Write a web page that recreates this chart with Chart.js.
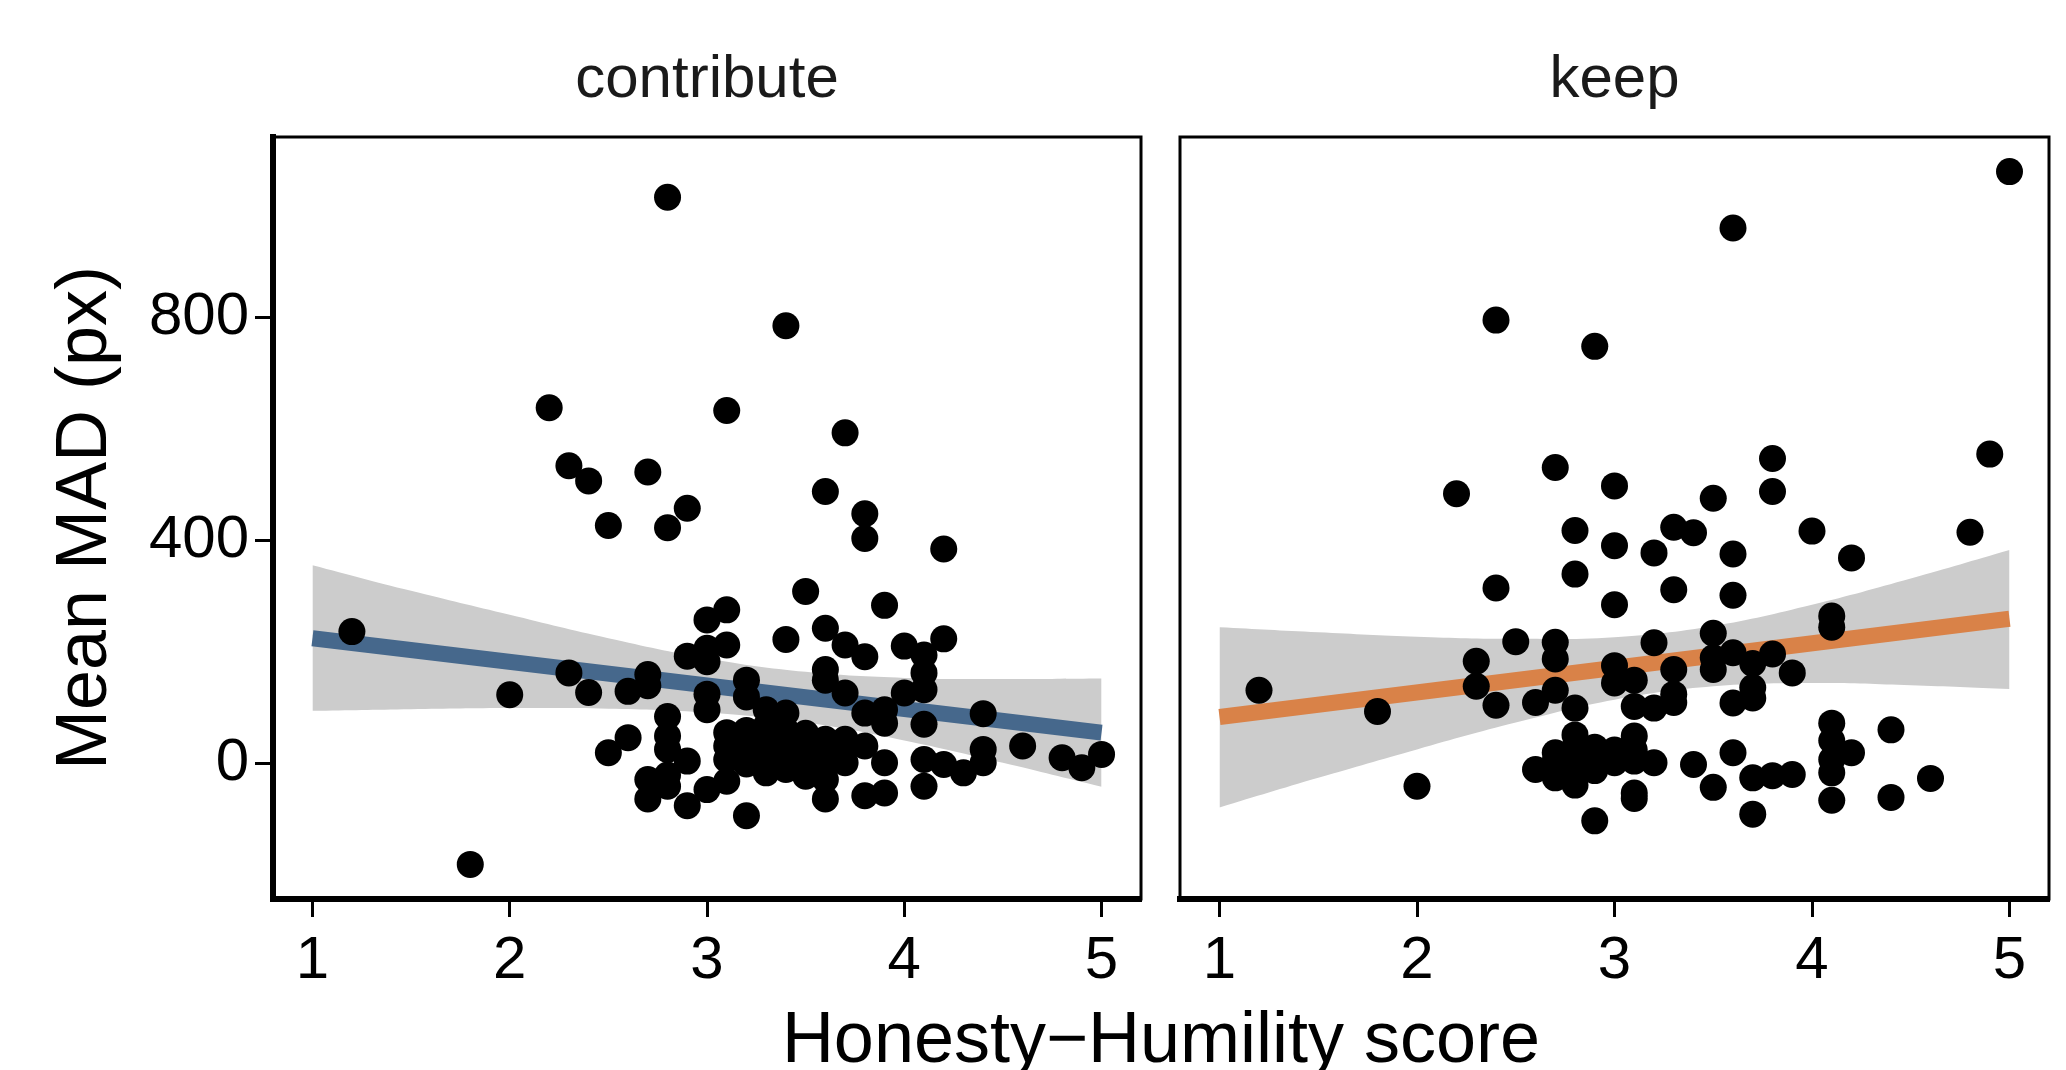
<!DOCTYPE html>
<html>
<head>
<meta charset="utf-8">
<script src="https://cdn.jsdelivr.net/npm/chart.js@4.4.1/dist/chart.umd.min.js"></script>
<style>
  body { margin: 0; background: #fff; width: 2066px; height: 1070px; position: relative; overflow: hidden; }
  canvas { position: absolute; top: 0; }
  #c1 { left: 0; }
  #c2 { left: 1160px; }
  #xtitle { position: absolute; left: 561px; width: 1200px; top: 994px; text-align: center;
            font: 72px 'Liberation Sans', Arial, sans-serif; line-height: 86px; color: #000; }
</style>
</head>
<body>
<canvas id="c1" width="1160" height="1070"></canvas>
<canvas id="c2" width="906" height="1070"></canvas>
<div id="xtitle">Honesty−Humility score</div>
<script>
// values
const xTicks = [1, 2, 3, 4, 5];
const yTicks = [0, 400, 800];

const contributeX = [2.8, 3.4, 2.2, 3.1, 3.7, 2.3, 2.4, 2.7, 2.9, 2.5, 2.8, 3.6, 3.8, 3.8, 4.2,
    1.2, 2.0, 1.8, 2.3, 2.4, 2.6, 2.7, 2.7, 3.5, 3.0, 3.1, 3.4, 3.6, 2.9, 3.0, 3.0, 3.1, 3.0, 3.0, 3.2, 3.2,
    3.9, 3.7, 3.8, 4.0, 4.2, 4.1, 4.1, 4.1, 3.6, 3.6, 3.7, 4.0, 3.8, 3.9, 3.9, 4.1, 4.4,
    2.8, 2.8, 2.8, 2.9, 2.7, 2.7, 2.8, 2.8, 2.6, 2.5, 3.1, 3.1, 3.1, 3.1, 3.0, 2.9, 3.2,
    3.3, 3.3, 3.4, 3.4, 3.3, 3.3, 3.3, 3.4, 3.4, 3.4, 3.5, 3.5, 3.5, 3.6, 3.6, 3.6, 3.6, 3.6, 3.7, 3.7, 3.7,
    3.8, 3.8, 3.9, 3.9, 4.1, 4.1, 4.2, 4.3, 4.4, 4.4, 4.6, 4.8, 4.9, 5.0,
    3.2, 3.2, 3.3, 3.4, 3.5, 3.5, 3.2];
const contributeY = [1015, 785, 638, 633, 593, 534, 507, 523, 458, 427, 423, 488, 448, 404, 385,
    237, 124, -180, 163, 128, 130, 160, 140, 309, 258, 276, 223, 243, 193, 207, 183, 213, 125, 97, 150, 120,
    284, 213, 192, 211, 224, 195, 163, 133, 169, 150, 127, 127, 91, 97, 73, 71, 90,
    85, 50, 26, 5, -28, -63, -20, -40, 47, 20, 56, 32, 8, -31, -46, -75, -93,
    97, 68, 91, 60, 40, 26, -16, -10, 20, 45, 32, 10, -22, 44, 20, -5, -28, -63, 44, 26, 2,
    32, -57, 2, -52, 8, -40, -1, -16, 26, 2, 32, 11, -7, 17,
    60, 30, 5, 0, 55, -5, 0];

const keepX = [5.0, 3.6, 2.4, 2.9, 2.7, 2.2, 3.0, 3.8, 3.8, 3.5, 4.9, 2.8, 3.0, 3.2, 3.3, 3.4, 3.6, 4.0, 4.2, 4.8,
    2.4, 2.8, 3.0, 3.3, 3.6, 4.1, 4.1, 2.5, 2.7, 2.7, 3.2, 3.5, 3.5, 3.5, 3.6, 3.7, 3.8, 3.9,
    1.2, 1.8, 2.0, 2.3, 2.3, 2.4, 2.6, 2.7, 2.8, 3.0, 3.0, 3.1, 3.1, 3.2, 3.3, 3.3, 3.3, 3.6, 3.7, 3.7,
    2.6, 2.7, 2.7, 2.8, 2.8, 2.8, 2.9, 2.9, 3.0, 3.1, 3.1, 3.1, 3.1, 3.2, 3.4, 3.5, 3.6, 3.7, 3.8, 3.9, 3.7, 2.9,
    4.1, 4.1, 4.1, 4.1, 4.1, 4.2, 4.4, 4.4, 4.6, 2.7, 2.8, 2.8, 2.9, 3.0, 3.1, 2.7];
const keepY = [1061, 960, 795, 748, 531, 484, 498, 547, 488, 476, 555, 418, 391, 378, 424, 414, 376, 417, 369, 415,
    315, 340, 285, 312, 302, 265, 245, 219, 218, 188, 217, 234, 190, 169, 199, 180, 197, 163,
    132, 94, -40, 184, 139, 105, 110, 132, 100, 176, 145, 150, 103, 100, 169, 125, 110, 109, 137, 118,
    -10, 20, -25, 52, 10, -38, 30, -12, 2, 50, 5, -52, -62, 2, -1, -42, 20, -25, -21, -19, -90, -102,
    73, 42, 8, -16, -65, 20, 61, -60, -26, 0, -15, 30, 5, 25, 25, 5];

// fitted lines and their confidence bands
const fitX = [1, 5];
const contributeFit = [225, 56];
const keepFit = [84, 260];

const bandX = [1, 1.5, 2, 2.5, 3, 3.5, 4, 4.5, 5];
const contributeUpper = [356, 310, 267, 225, 189, 165, 154, 152, 153];
const contributeLower = [95, 98, 100, 99, 92, 74, 42, 2, -41];
const keepUpper = [245, 236, 228, 224, 227, 247, 285, 332, 383];
const keepLower = [-78, -25, 26, 74, 115, 139, 145, 141, 134];


Chart.defaults.font.family = "'Liberation Sans', Arial, sans-serif";
Chart.defaults.color = '#000';

const toPoints = (xs, ys) => xs.map((x, i) => ({ x: x, y: ys[i] }));

const panelBorder = {
    id: 'panelBorder',
    afterDraw: chart => {
        const { ctx, chartArea: a } = chart;
        ctx.save();
        ctx.strokeStyle = '#000';
        ctx.lineWidth = 3;
        ctx.strokeRect(a.left, a.top, a.right - a.left, a.bottom - a.top);
        ctx.restore();
    },
};

const makePanel = (id, name, xs, ys, fit, upper, lower, color, showY, padding) => {
    const yScale = {
        type: 'linear',
        min: -242,
        max: 1123,
        display: showY,
        afterBuildTicks: s => { s.ticks = yTicks.map(v => ({ value: v })); },
        grid: { drawOnChartArea: false, drawTicks: true, tickLength: 18, tickWidth: 3, tickColor: '#000' },
        border: { display: true, color: '#000', width: 6 },
        ticks: { font: { size: 60 }, color: '#000', padding: 6, callback: v => String(v) },
        title: { display: true, text: 'Mean MAD (px)', font: { size: 72 }, color: '#000', padding: { top: 43, bottom: 0 } },
    };
    if (showY) {
        yScale.afterFit = s => { s.width = 273; };
    }

    new Chart(document.getElementById(id), {
        type: 'scatter',
        data: {
            datasets: [
                {
                    data: toPoints(xs, ys),
                    pointRadius: 13.5,
                    pointHoverRadius: 13.5,
                    pointBackgroundColor: '#000',
                    pointBorderWidth: 0,
                    showLine: false,
                },
                {
                    type: 'line',
                    data: toPoints(fitX, fit),
                    borderColor: color,
                    borderWidth: 16,
                    borderCapStyle: 'butt',
                    pointRadius: 0,
                    fill: false,
                },
                {
                    type: 'line',
                    data: toPoints(bandX, upper),
                    borderColor: 'rgba(0,0,0,0)',
                    borderWidth: 1,
                    pointRadius: 0,
                    tension: 0.4,
                    fill: '+1',
                    backgroundColor: 'rgb(204,204,204)',
                },
                {
                    type: 'line',
                    data: toPoints(bandX, lower),
                    borderColor: 'rgba(0,0,0,0)',
                    borderWidth: 1,
                    pointRadius: 0,
                    tension: 0.4,
                    fill: false,
                },
            ],
        },
        options: {
            responsive: false,
            animation: false,
            events: [],
            layout: { padding: padding },
            plugins: {
                legend: { display: false },
                tooltip: { enabled: false },
                title: {
                    display: true,
                    text: name,
                    fullSize: false,
                    color: '#1a1a1a',
                    font: { size: 60, weight: 'normal' },
                    padding: { top: 44, bottom: 21 },
                },
            },
            scales: {
                x: {
                    type: 'linear',
                    min: 0.8,
                    max: 5.2,
                    afterBuildTicks: s => { s.ticks = xTicks.map(v => ({ value: v })); },
                    afterFit: s => { s.height = 171; },
                    grid: { drawOnChartArea: false, drawTicks: true, tickLength: 18, tickWidth: 3, tickColor: '#000' },
                    border: { display: true, color: '#000', width: 6 },
                    ticks: { font: { size: 60 }, color: '#000', padding: 8, maxRotation: 0, autoSkip: false, callback: v => String(v) },
                },
                y: yScale,
            },
        },
        plugins: [panelBorder],
    });
};

makePanel('c1', 'contribute', contributeX, contributeY, contributeFit, contributeUpper, contributeLower,
    'rgb(70,104,140)', true, { left: 0, right: 19, top: 0, bottom: 0 });
makePanel('c2', 'keep', keepX, keepY, keepFit, keepUpper, keepLower,
    'rgb(217,130,72)', false, { left: 20, right: 17, top: 0, bottom: 0 });
</script>
</body>
</html>
